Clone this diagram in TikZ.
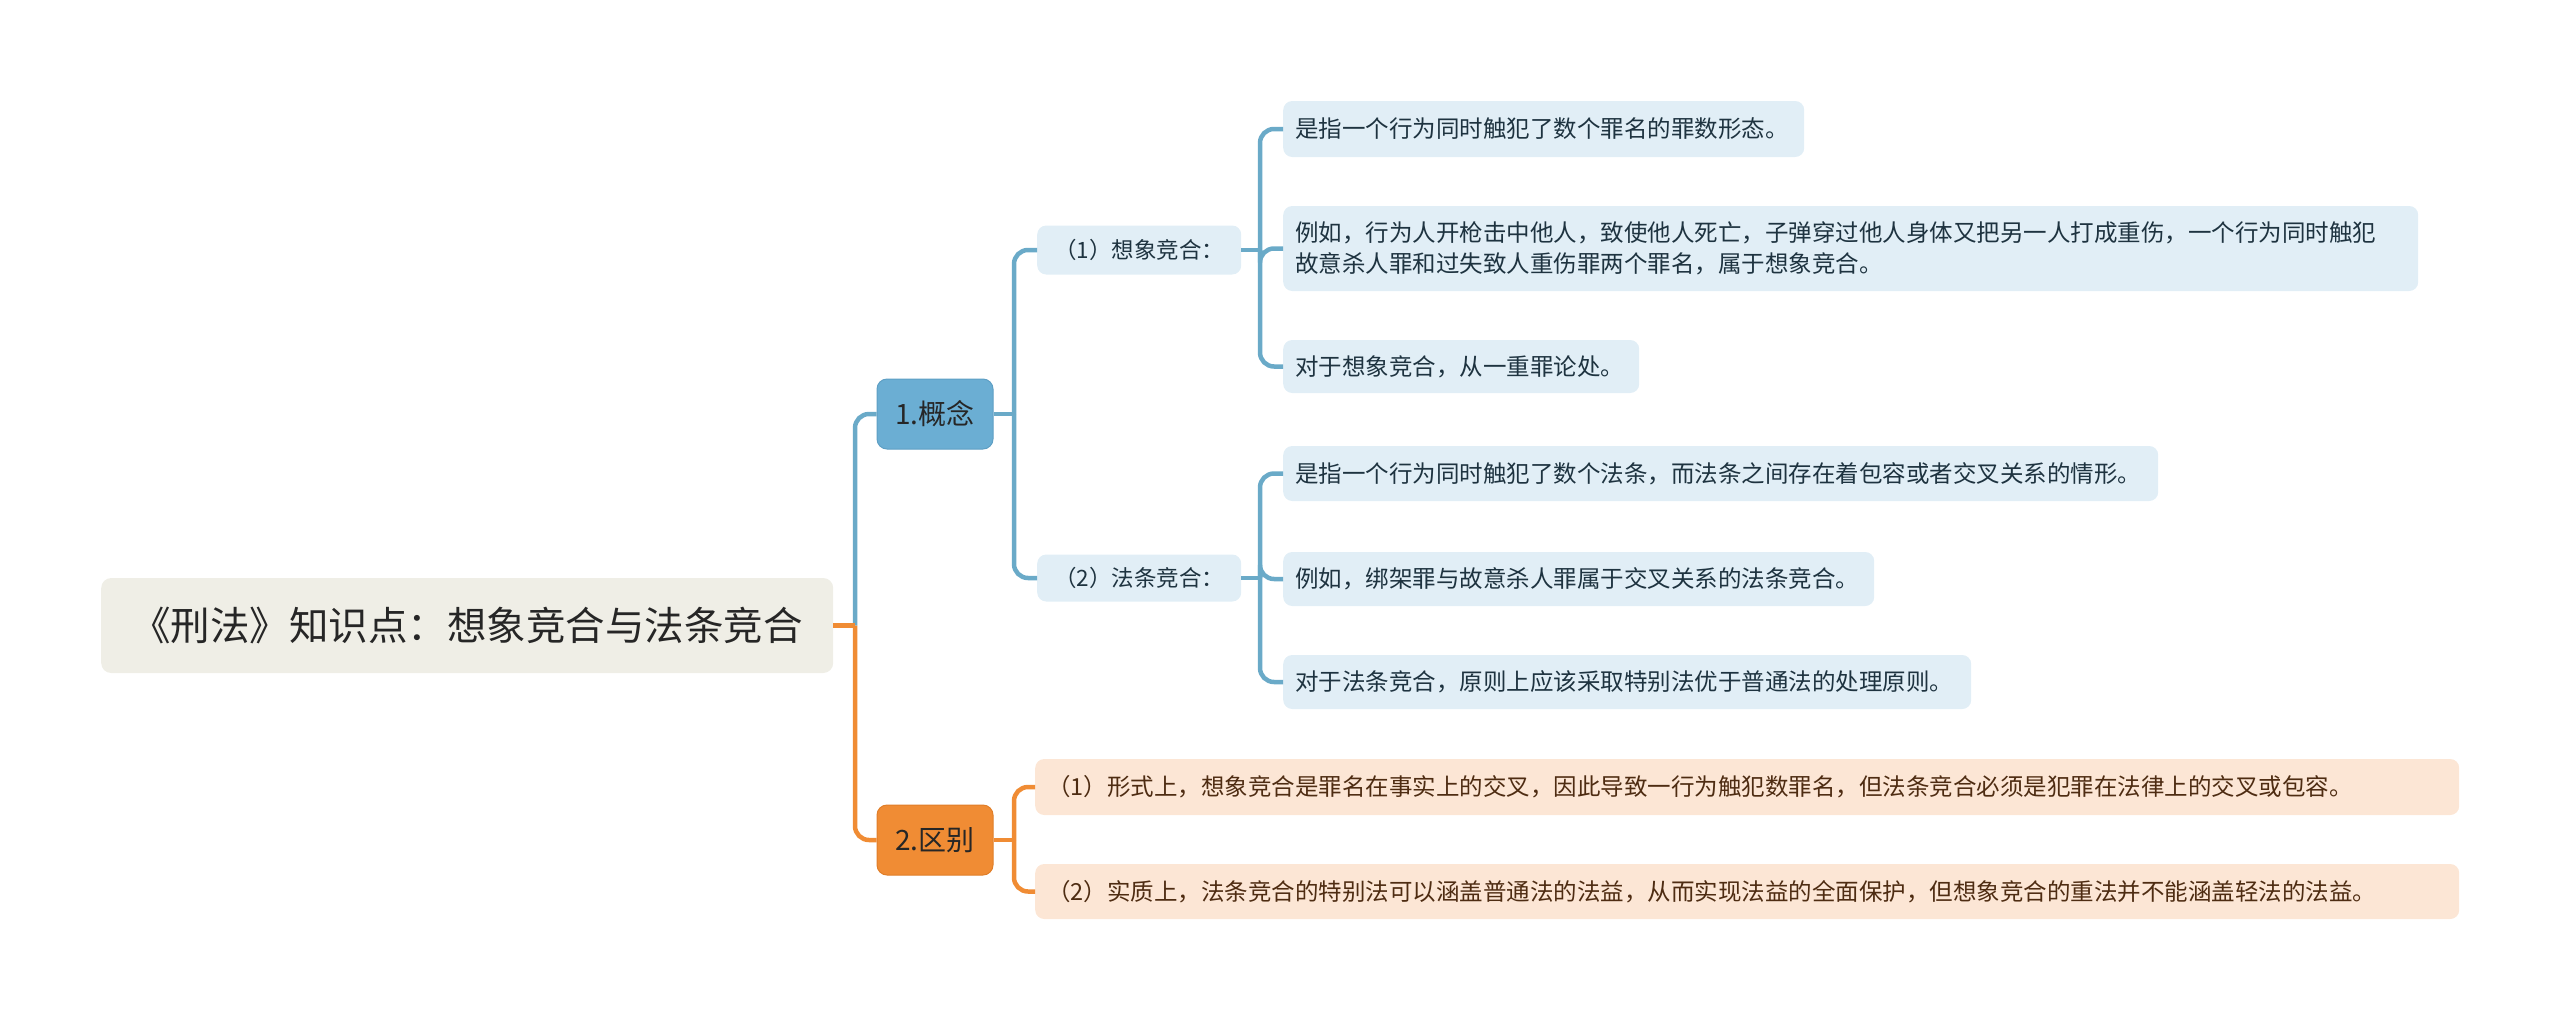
\documentclass[tikz,border=0pt]{standalone}
\usepackage{fontspec}
\setmainfont{Noto Sans CJK SC}
\definecolor{rootfill}{HTML}{EFEEE6}
\definecolor{bluemain}{HTML}{6BAED3}
\definecolor{bluedraw}{HTML}{5E9FC4}
\definecolor{blueline}{HTML}{6AAAC8}
\definecolor{bluelight}{HTML}{E1EEF6}
\definecolor{orangemain}{HTML}{F08C34}
\definecolor{orangedraw}{HTML}{E07E28}
\definecolor{orangelight}{HTML}{FCE6D5}
\definecolor{textdark}{HTML}{262626}
\definecolor{leaftext}{HTML}{1E3340}
\definecolor{browntext}{HTML}{4E2C12}
\tikzset{
  rootbox/.style={fill=rootfill, rounded corners=10, anchor=west, minimum width=732, minimum height=95,
    inner sep=0, text=textdark, font=\fontsize{39.5}{46}\selectfont},
  mainbox/.style={rounded corners=10, minimum width=116, minimum height=70, inner sep=0,
    text=textdark, font=\fontsize{28}{33}\selectfont, line width=1},
  midbox/.style={fill=bluelight, rounded corners=9, anchor=west, minimum width=204, inner sep=0,
    text=leaftext, font=\fontsize{22.5}{28}\selectfont},
  leafbox/.style={fill=bluelight, rounded corners=9, anchor=west, inner xsep=12, inner ysep=0,
    align=left, text=leaftext, font=\fontsize{23.5}{31}\selectfont},
  obox/.style={leafbox, fill=orangelight, text=browntext},
  bl/.style={draw=blueline, line width=4.5, rounded corners=14},
  ol/.style={draw=orangemain, line width=4.5, rounded corners=14},
}
\begin{document}
\begin{tikzpicture}[x=1pt,y=-1pt]
\useasboundingbox (0,0) rectangle (2560,1021);
% nodes
\node[rootbox] (root) at (101,625.5) {《刑法》知识点：想象竞合与法条竞合};
\node[mainbox, fill=bluemain, draw=bluedraw] (n1) at (935,414) {1.概念};
\node[mainbox, fill=orangemain, draw=orangedraw] (n2) at (935,840) {2.区别};
\node[midbox, minimum height=49] (m1) at (1037,250) {（1）想象竞合：};
\node[midbox, minimum height=47] (m2) at (1037,578) {（2）法条竞合：};
\node[leafbox, text width=497, minimum height=56] (a1) at (1283,129) {是指一个行为同时触犯了数个罪名的罪数形态。};
\node[leafbox, text width=1111, minimum height=85] (a2) at (1283,248.5) {例如，行为人开枪击中他人，致使他人死亡，子弹穿过他人身体又把另一人打成重伤，一个行为同时触犯\\故意杀人罪和过失致人重伤罪两个罪名，属于想象竞合。};
\node[leafbox, text width=332, minimum height=53] (a3) at (1283,366.5) {对于想象竞合，从一重罪论处。};
\node[leafbox, text width=851, minimum height=55] (b1) at (1283,473.5) {是指一个行为同时触犯了数个法条，而法条之间存在着包容或者交叉关系的情形。};
\node[leafbox, text width=567, minimum height=54] (b2) at (1283,579) {例如，绑架罪与故意杀人罪属于交叉关系的法条竞合。};
\node[leafbox, text width=664, minimum height=54] (b3) at (1283,682) {对于法条竞合，原则上应该采取特别法优于普通法的处理原则。};
\node[obox, text width=1400, minimum height=56] (c1) at (1035,787) {（1）形式上，想象竞合是罪名在事实上的交叉，因此导致一行为触犯数罪名，但法条竞合必须是犯罪在法律上的交叉或包容。};
\node[obox, text width=1400, minimum height=55] (c2) at (1035,891.5) {（2）实质上，法条竞合的特别法可以涵盖普通法的法益，从而实现法益的全面保护，但想象竞合的重法并不能涵盖轻法的法益。};
% junctions
\coordinate (j0) at (855,625.5);
\coordinate (j1) at (1014,414);
\coordinate (j2) at (1014,840);
\coordinate (j3) at (1260,250);
\coordinate (j4) at (1260,578);
% connectors
\draw[bl] (j0) |- (n1.west);
\draw[ol] (j0) |- (n2.west);
\draw[ol, rounded corners=0] (root.east) -- (j0);
\draw[bl] (j1) |- (m1.west);
\draw[bl] (j1) |- (m2.west);
\draw[bl, rounded corners=0] (n1.east) -- (j1);
\draw[ol] (j2) |- (c1.west);
\draw[ol] (j2) |- (c2.west);
\draw[ol, rounded corners=0] (n2.east) -- (j2);
\draw[bl] (j3) |- (a1.west);
\draw[bl] (j3) |- (a2.west);
\draw[bl] (j3) |- (a3.west);
\draw[bl, rounded corners=0] (m1.east) -- (j3);
\draw[bl] (j4) |- (b1.west);
\draw[bl] (j4) |- (b2.west);
\draw[bl] (j4) |- (b3.west);
\draw[bl, rounded corners=0] (m2.east) -- (j4);
\end{tikzpicture}
\end{document}
